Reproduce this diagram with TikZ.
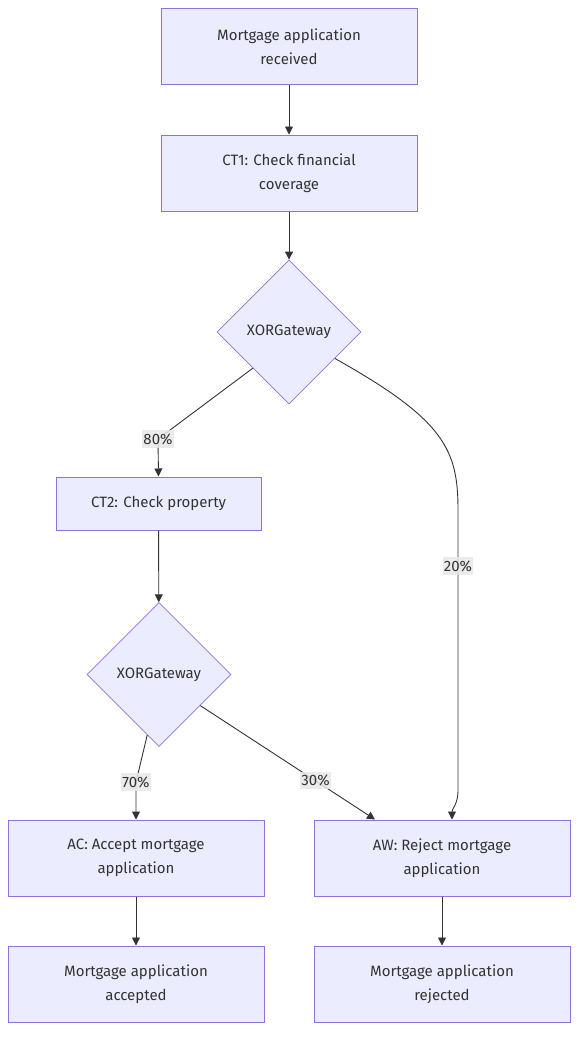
\documentclass[tikz,border=0pt]{standalone}
\usepackage{fontspec}
\setmainfont{Fira Sans}
\usetikzlibrary{arrows.meta,shapes.geometric,positioning,calc}
\definecolor{nodefill}{HTML}{ECECFF}
\definecolor{nodeline}{HTML}{9370DB}
\definecolor{textgrey}{HTML}{333333}
\definecolor{edgegrey}{HTML}{333333}
\definecolor{labelgrey}{HTML}{E8E8E8}

\begin{document}
\begin{tikzpicture}[x=1pt,y=-1pt,
  font=\fontsize{15}{24}\selectfont,
  box/.style={draw=nodeline,fill=nodefill,line width=1pt,text=textgrey,align=center,
    minimum width=256pt,minimum height=76pt,inner sep=0pt},
  gateway/.style={diamond,draw=nodeline,fill=nodefill,line width=0.8pt,text=textgrey,
    minimum width=144pt,minimum height=144pt,inner sep=0pt},
  edge/.style={draw=edgegrey,line width=0.9pt,-{Triangle[length=8pt,width=8pt]}},
  lbl/.style={fill=labelgrey,fill opacity=0.85,text opacity=1,text=textgrey,
    inner xsep=1pt,inner ysep=3pt}]
  \useasboundingbox (0,0) rectangle (586,1045);
  \node[box] (recv) at (289,46.5) {Mortgage application\\received};
  \node[box] (ct1) at (289,173) {CT1: Check financial\\coverage};
  \node[gateway] (gw1) at (289,332) {XORGateway};
  \node[box,minimum width=205pt,minimum height=53pt] (ct2) at (158.5,503.5) {CT2: Check property};
  \node[gateway] (gw2) at (159,674.5) {XORGateway};
  \node[box] (ac) at (136,858) {AC: Accept mortgage\\application};
  \node[box] (aw) at (442,858) {AW: Reject mortgage\\application};
  \node[box] (acc) at (136,984) {Mortgage application\\accepted};
  \node[box] (rej) at (442,984) {Mortgage application\\rejected};

  \draw[edge] (recv) -- (ct1);
  \draw[edge] (ct1) -- (gw1);
  \draw[edge] (gw1.south west) -- (158,439) node[lbl] {80\%} -- (ct2.north);
  \draw[edge] (gw1.-30) .. controls (445,420) and (458,450) .. (458,510)
    -- node[lbl,pos=0.2] {20\%} (458,790) .. controls (458,805) and (452,808) .. ($(aw.north)+(10,0)$);
  \draw[edge] (ct2) -- (gw2);
  \draw[edge] (gw2.-101) -- (136,782) node[lbl] {70\%} -- (ac.north);
  \draw[edge] (gw2.-37) -- node[lbl,pos=0.66] {30\%} ($(aw.north)+(-67,0)$);
  \draw[edge] (ac) -- (acc);
  \draw[edge] (aw) -- (rej);
\end{tikzpicture}
\end{document}
